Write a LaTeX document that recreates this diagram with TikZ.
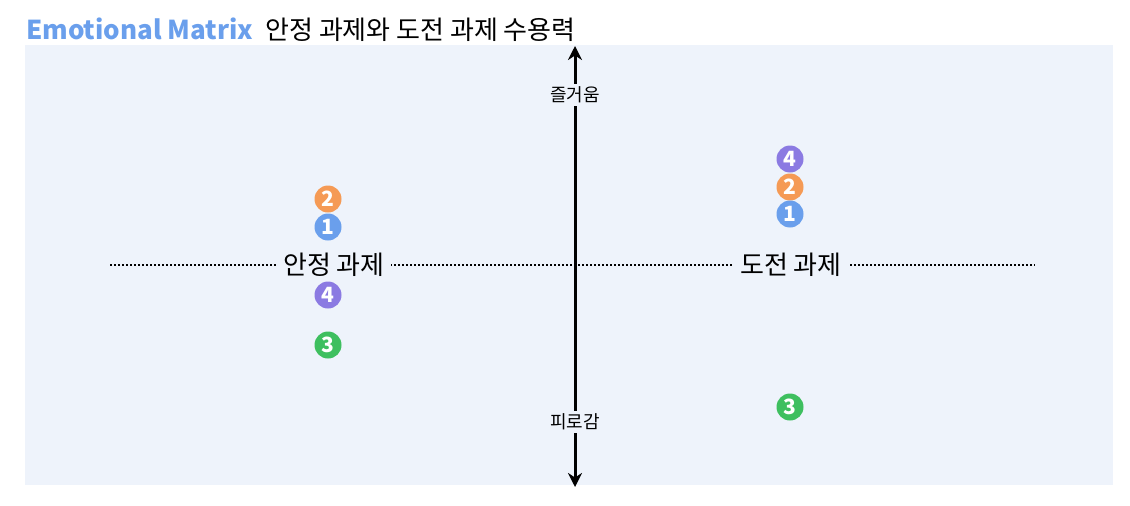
\documentclass[tikz,border=0pt]{standalone}
\usepackage{fontspec}
\setmainfont{Noto Sans CJK KR}
\usetikzlibrary{arrows.meta}
\definecolor{bg}{HTML}{EEF3FB}
\definecolor{cblue}{HTML}{6A9FEC}
\definecolor{corange}{HTML}{F59A55}
\definecolor{cpurple}{HTML}{8B7AE2}
\definecolor{cgreen}{HTML}{3EBF5F}
\begin{document}
\begin{tikzpicture}[x=1pt,y=-1pt,
  num/.style={circle,fill=#1,text=white,font=\fontsize{21}{21}\selectfont\bfseries,inner sep=0pt,minimum size=27pt},
  axlab/.style={fill=bg,inner sep=3pt,font=\fontsize{18}{18}\selectfont},
  grp/.style={fill=bg,inner sep=6pt,font=\fontsize{26}{26}\selectfont}]
\useasboundingbox (0,0) rectangle (1130,506);
\fill[bg] (25,45) rectangle (1113,485);
\node[anchor=west,inner sep=0pt] (title) at (26,30) {\fontsize{26}{26}\selectfont\textcolor{cblue}{\bfseries Emotional Matrix}\hspace{12pt}안정 과제와 도전 과제 수용력};
\coordinate (hl) at (110,265);
\coordinate (hr) at (1035,265);
\draw[line width=2pt,dotted] (hl) -- (hr);
\coordinate (top) at (575,46);
\coordinate (bot) at (575,487);
\draw[line width=3pt,-{Stealth[length=14pt,width=14pt]}] (575,265) -- (top);
\draw[line width=3pt,-{Stealth[length=14pt,width=14pt]}] (575,265) -- (bot);
\node[axlab] (joy) at (575,95) {즐거움};
\node[axlab] (tired) at (575,422) {피로감};
\node[grp] (stable) at (334,265) {안정 과제};
\node[grp] (chal) at (791,265) {도전 과제};
\node[num=corange] (l2) at (328,199) {2};
\node[num=cblue] (l1) at (328,227) {1};
\node[num=cpurple] (l4) at (328,295) {4};
\node[num=cgreen] (l3) at (328,345) {3};
\node[num=cpurple] (r4) at (790,159) {4};
\node[num=corange] (r2) at (790,187) {2};
\node[num=cblue] (r1) at (790,214) {1};
\node[num=cgreen] (r3) at (790,407) {3};
\end{tikzpicture}
\end{document}
